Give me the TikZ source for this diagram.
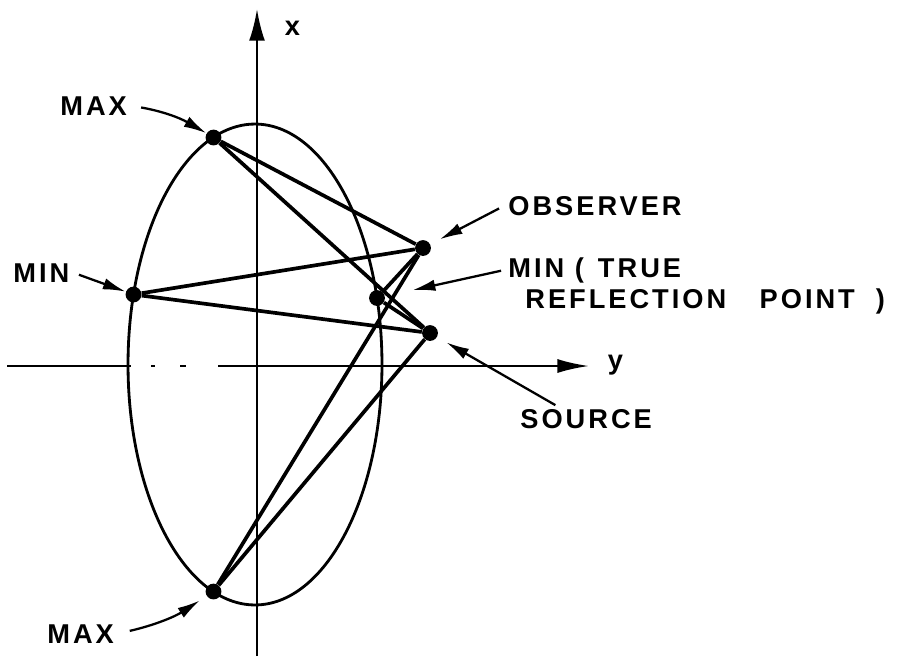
\documentclass[tikz,border=0pt]{standalone}
\usepackage{fontspec}
\setmainfont{Liberation Sans}
\usetikzlibrary{arrows.meta,positioning}

\begin{document}
\begin{tikzpicture}[
  x=0.02cm, y=-0.02cm,
  spot/.style={circle, fill=black, inner sep=0pt, minimum size=9pt},
  lbl/.style={inner sep=2pt, font=\fontsize{15.5}{18}\selectfont\bfseries\addfontfeature{LetterSpace=11}},
  ray/.style={line width=2.1pt, black},
  pointer/.style={-{Latex[length=13pt,width=6.5pt]}, line width=1.3pt},
  axisline/.style={line width=1.4pt},
  curve/.style={line width=1.6pt}
]
\useasboundingbox (0,0) rectangle (906,660);

% axes
\coordinate (xbot) at (257,656);
\coordinate (xtop) at (257,9);
\coordinate (yleft) at (7,366);
\coordinate (ygap) at (131,366);
\coordinate (yresume) at (218,366);
\coordinate (yright) at (589,366);
\draw[axisline, -{Latex[length=18pt,width=9pt]}] (xbot) -- (xtop);
\draw[axisline] (yleft) -- (ygap);
\draw[line width=0.9pt] (151,366) -- (155,366);
\draw[line width=1.3pt] (180,366) -- (186,366);
\draw[axisline, -{Latex[length=18pt,width=8pt]}] (yresume) -- (yright);
\node[lbl, anchor=base west] (xlab) at (281,35) {x};
\node[lbl, anchor=base west] (ylab) at (604,369) {y};

% reflecting surface
\draw[curve] (255,364.5) ellipse [x radius=2.54cm, y radius=4.81cm];

% points
\node[spot] (maxtop) at (213.5,137.5) {};
\node[spot] (minleft) at (133.5,294.5) {};
\node[spot] (truemin) at (377,298) {};
\node[spot] (maxbot) at (213.5,591.5) {};
\node[spot] (obs) at (423,248) {};
\node[spot] (src) at (430,333) {};

% ray paths
\foreach \p in {maxtop,minleft,truemin,maxbot}{
  \draw[ray] (\p) -- (obs);
  \draw[ray] (\p) -- (src);
}

% labels
\node[lbl, anchor=base west] (maxtoplbl) at (56.5,115) {MAX};
\node[lbl, anchor=base west] (minlbl) at (9.5,282) {MIN};
\node[lbl, anchor=base west] (maxbotlbl) at (43.5,643) {MAX};
\node[lbl, anchor=base west] (obslbl) at (504.5,215) {OBSERVER};
\node[lbl, anchor=base west] (trulbl) at (504.5,277) {MIN ( \hspace{2pt}TRUE};
\node[lbl, anchor=base west] (refllbl) at (521.5,308) {REFLECTION\hspace{19pt}POINT\hspace{12pt})};
\node[lbl, anchor=base west] (srclbl) at (516.5,428) {SOURCE};

\draw[pointer, shorten <=6pt] (maxtoplbl.east) to[bend left=10] (maxtop);
\draw[pointer, shorten <=3.5pt] (minlbl.east) -- (minleft);
\draw[pointer, shorten <=7pt, shorten >=4.5pt] (maxbotlbl.east) to[bend right=10] (maxbot);
\draw[pointer, shorten <=3.5pt, shorten >=6pt] (obslbl.west) -- (obs);
\draw[pointer, shorten <=2pt, shorten >=16pt] (trulbl.west) -- (truemin);
\draw[pointer, shorten >=6pt] ([xshift=-17.5pt]srclbl.north) -- (src);
\end{tikzpicture}
\end{document}
